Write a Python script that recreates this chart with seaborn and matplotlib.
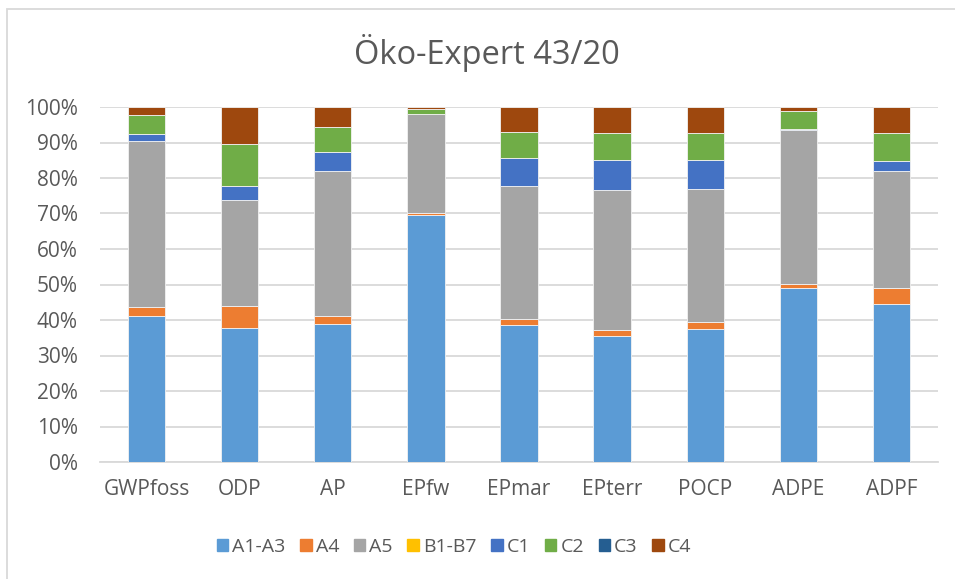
import matplotlib
matplotlib.use("Agg")
import matplotlib.pyplot as plt
import matplotlib.patches as mpatches
from matplotlib.ticker import PercentFormatter
import seaborn as sns
import numpy as np

categories = ['GWPfoss', 'ODP', 'AP', 'EPfw', 'EPmar', 'EPterr', 'POCP', 'ADPE', 'ADPF']
series_names = ['A1-A3', 'A4', 'A5', 'B1-B7', 'C1', 'C2', 'C3', 'C4']

a1_a3 = [41.0, 37.7, 39.0, 69.7, 38.6, 35.6, 37.4, 48.9, 44.5]
a4 = [2.7, 6.2, 2.1, 0.5, 1.6, 1.7, 2.1, 1.2, 4.4]
a5 = [46.6, 29.9, 40.9, 27.7, 37.5, 39.3, 37.5, 43.4, 33.1]
b1_b7 = [0, 0, 0, 0, 0, 0, 0, 0, 0]
c1 = [2.1, 4.0, 5.4, 0.2, 7.8, 8.4, 8.0, 0.3, 2.7]
c2 = [5.3, 11.8, 6.9, 1.3, 7.5, 7.7, 7.7, 5.2, 8.1]
c3 = [0, 0, 0, 0, 0, 0, 0, 0, 0]
c4 = [2.3, 10.4, 5.7, 0.6, 7.0, 7.3, 7.3, 1.0, 7.2]

colors = ['#5B9BD5', '#ED7D31', '#A5A5A5', '#FFC000', '#4472C4', '#70AD47', '#255E91', '#9E480E']

sns.set_style('white')
plt.rcParams['font.family'] = ['Open Sans', 'DejaVu Sans']
text_color = '#595959'

fig = plt.figure(figsize=(9.55, 5.79), dpi=100)
ax = fig.add_axes([100 / 955, 1 - 462 / 579, 838 / 955, 355 / 579])

# stacked bars, one seaborn call per series
all_series = [a1_a3, a4, a5, b1_b7, c1, c2, c3, c4]
bottom = np.zeros(len(categories))
for name, vals, col in zip(series_names, all_series, colors):
    v = np.array(vals) / 100.0
    sns.barplot(x=categories, y=v, bottom=bottom, color=col, saturation=1,
                width=0.4, errorbar=None, ax=ax, label=name,
                edgecolor='#f2f2f2', linewidth=0.6, zorder=3)
    bottom = bottom + v

ax.set_ylim(0, 1)
ax.set_xlim(-0.5, len(categories) - 0.5)
ax.set_yticks(np.arange(0, 1.01, 0.1))
ax.yaxis.set_major_formatter(PercentFormatter(1.0, decimals=0))
ax.grid(axis='y', color='#d9d9d9', linewidth=1.3, zorder=0)
ax.set_axisbelow(True)
for s in ['top', 'right', 'left']:
    ax.spines[s].set_visible(False)
ax.spines['bottom'].set_color('#d9d9d9')
ax.spines['bottom'].set_linewidth(1.3)
ax.tick_params(axis='y', length=0, pad=16, labelsize=15, labelcolor=text_color)
ax.tick_params(axis='x', length=0, pad=12, labelsize=15, labelcolor=text_color)
ax.set_xlabel('')
ax.set_ylabel('')
if ax.get_legend() is not None:
    ax.get_legend().remove()

fig.text(487 / 955, 1 - 53 / 579, 'Öko-Expert 43/20', ha='center', va='center',
         fontsize=23.5, color=text_color)

handles = [mpatches.Patch(color=c, label=n) for n, c in zip(series_names, colors)]
fig.legend(handles=handles, loc='center', bbox_to_anchor=(454 / 955, 1 - 547 / 579),
           ncol=8, frameon=False, fontsize=14, labelcolor=text_color,
           handlelength=0.6, handleheight=0.6, handletextpad=0.2,
           columnspacing=0.75)

# light grey chart border like the Excel chart area
border = mpatches.Rectangle((7 / 955, -0.05), 1.1, 1 - 9 / 579 + 0.05,
                            transform=fig.transFigure, fill=False,
                            edgecolor='#d9d9d9', linewidth=1.3)
fig.patches.append(border)

fig.savefig('out.png', dpi=100)
